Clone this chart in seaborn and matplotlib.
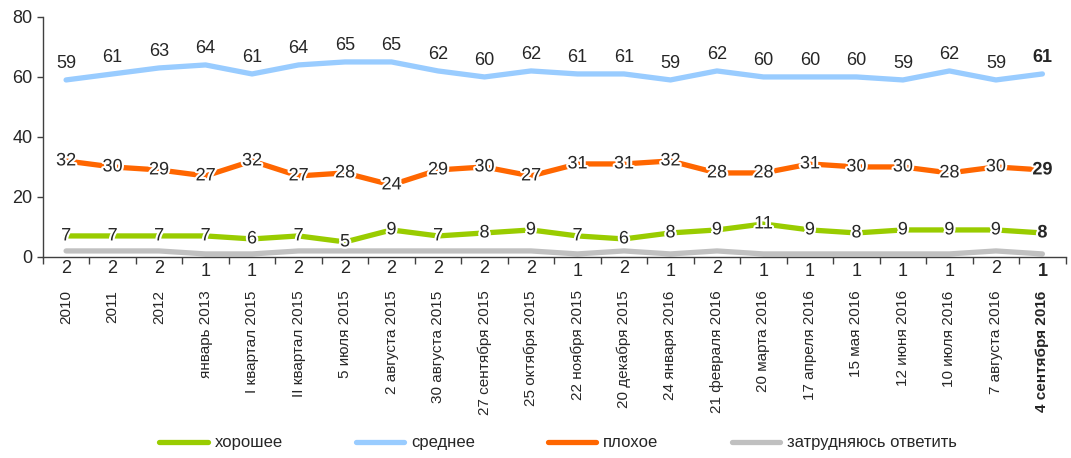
import numpy as np
import pandas as pd
import seaborn as sns
import matplotlib.pyplot as plt
import matplotlib.patheffects as pe

dates = ["2010", "2011", "2012", "январь 2013", "I квартал 2015", "II квартал 2015",
         "5 июля 2015", "2 августа 2015", "30 августа 2015", "27 сентября 2015",
         "25 октября 2015", "22 ноября 2015", "20 декабря 2015", "24 января 2016",
         "21 февраля 2016", "20 марта 2016", "17 апреля 2016", "15 мая 2016",
         "12 июня 2016", "10 июля 2016", "7 августа 2016", "4 сентября 2016"]
good = [7, 7, 7, 7, 6, 7, 5, 9, 7, 8, 9, 7, 6, 8, 9, 11, 9, 8, 9, 9, 9, 8]
medium = [59, 61, 63, 64, 61, 64, 65, 65, 62, 60, 62, 61, 61, 59, 62, 60, 60, 60, 59, 62, 59, 61]
bad = [32, 30, 29, 27, 32, 27, 28, 24, 29, 30, 27, 31, 31, 32, 28, 28, 31, 30, 30, 28, 30, 29]
hard = [2, 2, 2, 1, 1, 2, 2, 2, 2, 2, 2, 1, 2, 1, 2, 1, 1, 1, 1, 1, 2, 1]

names = ["хорошее", "среднее", "плохое", "затрудняюсь ответить"]
colors = ["#99cc00", "#99ccff", "#ff6600", "#c0c0c0"]
series = [good, medium, bad, hard]

sns.set_style("white")
plt.rcParams['font.family'] = ['Liberation Sans', 'DejaVu Sans']

rows = []
for name, vals in zip(names, series):
    for i, v in enumerate(vals):
        rows.append({"pos": i, "value": v, "series": name})
df = pd.DataFrame(rows)

fig = plt.figure(figsize=(10.71, 4.58), dpi=100)
ax = fig.add_axes([0.040, 0.439, 0.955, 0.524])
sns.lineplot(data=df, x="pos", y="value", hue="series", hue_order=names,
             palette=colors, linewidth=3.8, sort=False, ax=ax, legend=True)

n = len(dates)
halo = [pe.withStroke(linewidth=3, foreground="white")]
for i in range(n):
    w = "bold" if i == n - 1 else "normal"
    ax.annotate(str(medium[i]), (i, medium[i]), xytext=(0, 12), textcoords="offset points",
                ha="center", va="center", fontsize=13, fontweight=w)
    ax.annotate(str(bad[i]), (i, bad[i]), xytext=(0, 0), textcoords="offset points",
                ha="center", va="center", fontsize=13, fontweight=w, path_effects=halo)
    ax.annotate(str(good[i]), (i, good[i]), xytext=(0, 0), textcoords="offset points",
                ha="center", va="center", fontsize=13, fontweight=w, path_effects=halo)
    ax.annotate(str(hard[i]), (i, hard[i]), xytext=(0, -13), textcoords="offset points",
                ha="center", va="center", fontsize=13, fontweight=w, annotation_clip=False)

ax.set_xlim(-0.5, n - 0.5)
ax.set_ylim(0, 80)
ax.set_yticks(np.arange(0, 81, 20))
ax.tick_params(axis="y", labelsize=13, length=4, width=1, left=True, color="#404040")
ax.set_xticks(range(n))
ax.set_xticklabels(dates, rotation=90, fontsize=11, va="top")
ax.get_xticklabels()[-1].set_fontweight("bold")
ax.tick_params(axis="x", length=0, pad=24)
ax.set_xticks(np.arange(-0.5, n, 1), minor=True)
ax.tick_params(axis="x", which="minor", length=5, width=1, bottom=True, color="#404040")
ax.set_xlabel("")
ax.set_ylabel("")
for s in ["top", "right"]:
    ax.spines[s].set_visible(False)
for s in ["left", "bottom"]:
    ax.spines[s].set_color("#404040")
    ax.spines[s].set_linewidth(1)

handles, labels = ax.get_legend_handles_labels()
ax.get_legend().remove()
fig.legend(handles, labels, loc="center", bbox_to_anchor=(0.521, 0.033),
           ncol=4, frameon=False, fontsize=12, handlelength=2.9, handletextpad=0.4,
           columnspacing=4.4)

fig.savefig("out.png", dpi=100)
